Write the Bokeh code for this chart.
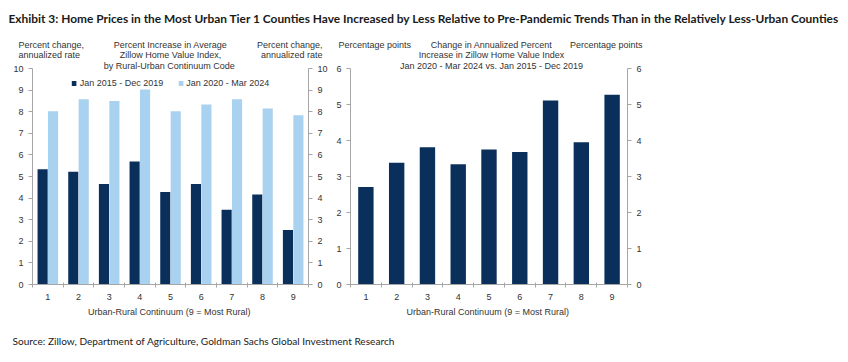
from bokeh.plotting import figure
from bokeh.models import Label, LinearAxis, Range1d, FixedTicker, Legend, LegendItem, ColumnDataSource
from bokeh.layouts import column, row
from bokeh.transform import dodge
from bokeh.embed import file_html
from bokeh.resources import INLINE

# ---------------- data ----------------
categories = [1, 2, 3, 4, 5, 6, 7, 8, 9]
pre_pandemic = [5.33, 5.22, 4.65, 5.69, 4.28, 4.65, 3.46, 4.17, 2.52]     # Jan 2015 - Dec 2019
post_pandemic = [8.02, 8.58, 8.49, 9.03, 8.02, 8.33, 8.58, 8.15, 7.84]    # Jan 2020 - Mar 2024
change_pp = [2.71, 3.38, 3.81, 3.34, 3.75, 3.68, 5.11, 3.95, 5.27]
left_yticks = [0, 1, 2, 3, 4, 5, 6, 7, 8, 9, 10]
right_yticks = [0, 1, 2, 3, 4, 5, 6]
series_names = ["Jan 2015 - Dec 2019", "Jan 2020 - Mar 2024"]

title_text = ("Exhibit 3: Home Prices in the Most Urban Tier 1 Counties Have Increased by Less "
              "Relative to Pre-Pandemic Trends Than in the Relatively Less-Urban Counties")
source_text = "Source: Zillow, Department of Agriculture, Goldman Sachs Global Investment Research"
x_axis_title = "Urban-Rural  Continuum (9 = Most Rural)"
left_unit = ["Percent change,", "annualized rate"]
left_title = ["Percent Increase in Average", "Zillow Home Value Index,", "by Rural-Urban  Continuum Code"]
right_unit = ["Percentage points"]
right_title = ["Change in Annualized Percent", "Increase in Zillow Home Value Index",
               "Jan 2020 - Mar 2024 vs. Jan 2015 - Dec 2019"]

# ---------------- style / layout ----------------
DARK = "#0B2F5B"
LIGHT = "#A9D2F0"
AXIS = "#A6A6A6"
TXT = "#333333"
FONT = "Liberation Sans"
FS = "9px"

W, H = 848, 362
HEAD_H = 60       # title + header strip (window y 0..60)
FIG_H = 262       # chart figures (window y 60..322)
PLOT_TOP = 68     # window y of the axis top value
PLOT_BOT = 284    # window y of zero
PH = PLOT_BOT - PLOT_TOP
LINE1, LSTEP = 44, 10.5


def make_chart(win_x0, width, frame_left, frame_right, ymax, yticks):
    y_end = ymax * (PLOT_BOT - HEAD_H) / PH
    p = figure(width=width, height=FIG_H, x_range=Range1d(0.5, 9.5), y_range=Range1d(0, y_end),
               min_border_left=frame_left - win_x0, min_border_right=win_x0 + width - frame_right,
               min_border_top=0, min_border_bottom=HEAD_H + FIG_H - PLOT_BOT,
               toolbar_location=None, output_backend="svg", outline_line_color=None,
               background_fill_color="white", border_fill_color="white")
    p.xgrid.visible = False
    p.ygrid.visible = False
    p.yaxis.ticker = FixedTicker(ticks=yticks)
    p.add_layout(LinearAxis(ticker=FixedTicker(ticks=yticks)), "right")
    bounds = [c - 0.5 for c in categories] + [categories[-1] + 0.5]
    p.xaxis.ticker = FixedTicker(ticks=categories, minor_ticks=bounds)
    for ax in p.axis:
        ax.axis_line_color = AXIS
        ax.major_tick_line_color = AXIS
        ax.minor_tick_line_color = AXIS
        ax.major_label_text_font = FONT
        ax.major_label_text_font_size = FS
        ax.major_label_text_color = TXT
        ax.axis_label_text_font = FONT
        ax.axis_label_text_font_size = FS
        ax.axis_label_text_font_style = "normal"
        ax.axis_label_text_color = TXT
    for ax in p.yaxis:
        ax.bounds = (0, ymax)
        ax.major_tick_in = 0
        ax.major_tick_out = 4
        ax.minor_tick_in = 0
        ax.minor_tick_out = 0
        ax.major_label_standoff = 5
    xa = p.xaxis[0]
    xa.major_tick_in = 0
    xa.major_tick_out = 0
    xa.minor_tick_in = 2
    xa.minor_tick_out = 3
    xa.major_label_standoff = 6
    xa.axis_label = x_axis_title
    xa.axis_label_standoff = 4

    fw = frame_right - frame_left

    def dx(wx):
        return 0.5 + (wx - frame_left) / fw * 9.0

    def dy(wy):
        return ymax * (PLOT_BOT - wy) / PH

    return p, dx, dy


def add_text(p, x, y, text, align, size=FS, font=FONT, style="normal", color=TXT):
    p.add_layout(Label(x=x, y=y, text=text, text_align=align, text_baseline="middle",
                       text_font=font, text_font_size=size, text_font_style=style,
                       text_color=color))


def strip(h):
    s = figure(width=W, height=h, x_range=Range1d(0, W), y_range=Range1d(0, h),
               x_axis_location=None, y_axis_location=None, min_border=0,
               toolbar_location=None, output_backend="svg", outline_line_color=None)
    s.xgrid.visible = False
    s.ygrid.visible = False
    return s


# ---------------- header strip (title + chart headings) ----------------
head = strip(HEAD_H)


def hy(wy):
    return HEAD_H - wy


add_text(head, 8, hy(18), title_text, "left", size="11.9px", font="Lato", style="bold",
         color="#1a1a1a")
for i, t in enumerate(left_unit):
    add_text(head, 18, hy(LINE1 + LSTEP * i), t, "left")
    add_text(head, 322, hy(LINE1 + LSTEP * i), t, "right")
for i, t in enumerate(left_title[:2]):
    add_text(head, 170, hy(LINE1 + LSTEP * i), t, "center")
add_text(head, 338, hy(LINE1), right_unit[0], "left")
add_text(head, 642, hy(LINE1), right_unit[0], "right")
for i, t in enumerate(right_title[:2]):
    add_text(head, 491, hy(LINE1 + LSTEP * i), t, "center")

# ---------------- left chart ----------------
left, ldx, ldy = make_chart(0, 330, 32, 308, 10, left_yticks)
src_l = ColumnDataSource(dict(cat=categories, pre=pre_pandemic, post=post_pandemic))
r1 = left.vbar(x=dodge("cat", -0.17), top="pre", width=0.33, source=src_l,
               fill_color=DARK, line_color=None)
r2 = left.vbar(x=dodge("cat", 0.17), top="post", width=0.33, source=src_l,
               fill_color=LIGHT, line_color=None)
legend = Legend(items=[LegendItem(label=series_names[0], renderers=[r1]),
                       LegendItem(label=series_names[1], renderers=[r2])],
                orientation="horizontal", location="top_center",
                glyph_width=6, glyph_height=6, label_text_font=FONT, label_text_font_size=FS,
                label_text_color=TXT, border_line_color=None, background_fill_alpha=0,
                spacing=14, padding=0, margin=(83 - 5 - HEAD_H), label_standoff=3, label_height=10)
left.add_layout(legend, "center")
add_text(left, ldx(170), ldy(LINE1 + 2 * LSTEP), left_title[2], "center")

# ---------------- right chart ----------------
right, rdx, rdy = make_chart(330, 330, 350, 627, 6, right_yticks)
src_r = ColumnDataSource(dict(cat=categories, chg=change_pp))
right.vbar(x="cat", top="chg", width=0.5, source=src_r, fill_color=DARK, line_color=None)
add_text(right, rdx(491), rdy(LINE1 + 2 * LSTEP), right_title[2], "center")

# ---------------- source strip ----------------
SRC_H = H - HEAD_H - FIG_H
source_fig = strip(SRC_H)
add_text(source_fig, 12, SRC_H - 18, source_text, "left", size="10.1px", font="Lato",
         color="#1a1a1a")

page = column(head, row(left, right), source_fig)
open("out.html", "w").write(file_html(page, INLINE))
